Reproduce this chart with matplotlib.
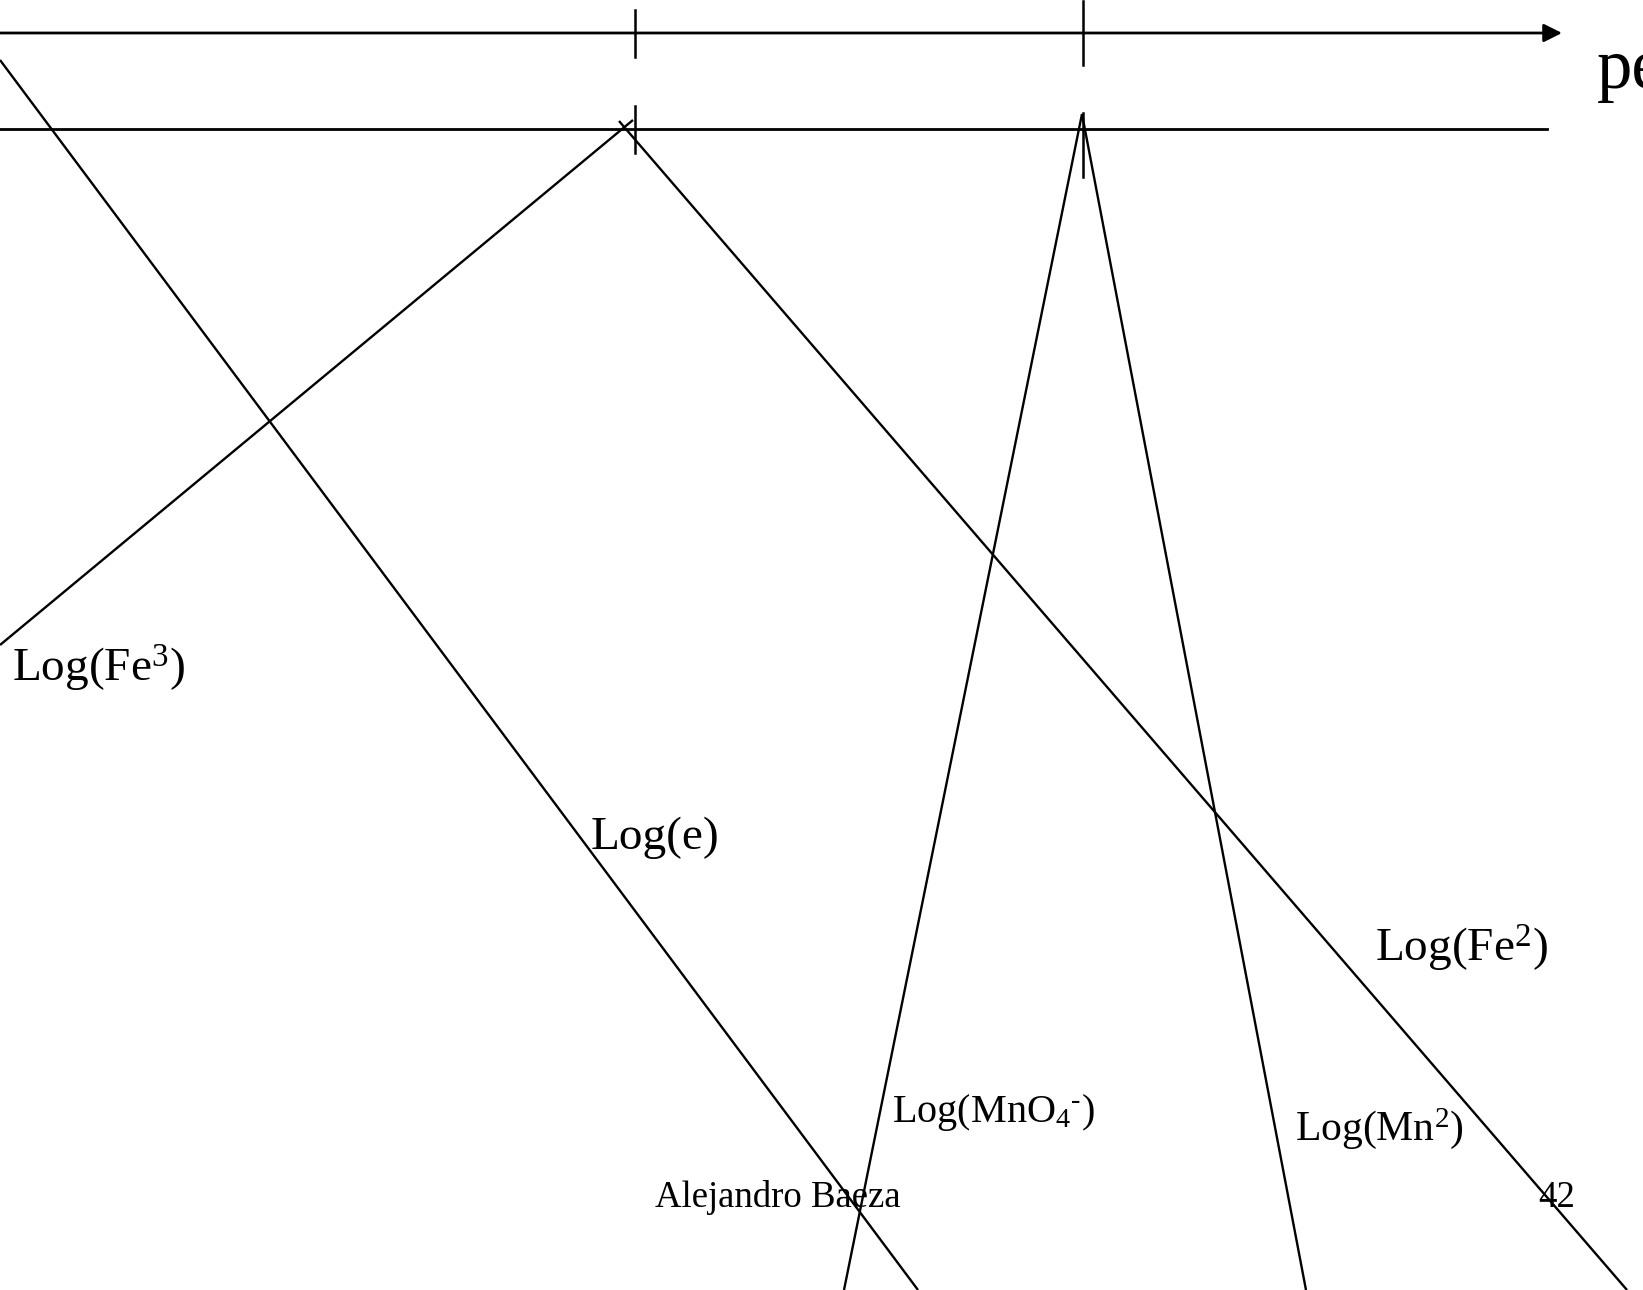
import matplotlib.pyplot as plt

plt.rcParams['font.family'] = ['Liberation Serif', 'DejaVu Serif']
plt.rcParams['mathtext.fontset'] = 'custom'
plt.rcParams['mathtext.rm'] = 'Liberation Serif'
plt.rcParams['mathtext.it'] = 'Liberation Serif:italic'

# positions (pixels of the 1643x1290 original, y downwards)
axis_y = [33, 129]                 # pe arrow axis, second reference line
axis_end = [1562, 1547]
tick_x = [635, 1083]
tick_top = [(10, 57), (1, 65)]
tick_low = [(106, 153), (113, 177)]

lines = {
    'Log(e)':    ([0, 918], [60, 1290]),
    'Log(Fe3)':  ([0, 633], [645, 120]),
    'Log(Fe2)':  ([619, 1627], [121, 1290]),
    'Log(MnO4)': ([1082, 844], [114, 1290]),
    'Log(Mn2)':  ([1082, 1306], [114, 1290]),
}

labels = [
    (r'Log(Fe$^{\mathrm{3}}$)', 12, 682, 34),
    ('Log(e)', 591, 849, 34),
    (r'Log(Fe$^{\mathrm{2}}$)', 1375, 962, 34),
    ('Log(MnO$_{\\mathrm{4}}$$^{\\mathrm{\u2010}}$)', 892, 1122, 29),
    (r'Log(Mn$^{\mathrm{2}}$)', 1295, 1140, 30),
    ('Alejandro Baeza', 655, 1207, 26.5),
    ('42', 1538, 1207, 26.5),
    ('pe', 1597, 88, 51),
]

fig = plt.figure(figsize=(16.43, 12.90), dpi=100)
ax = fig.add_axes([0, 0, 1, 1])
ax.set_xlim(0, 1643)
ax.set_ylim(1290, 0)
ax.axis('off')

# pe axis with arrow head
ax.annotate('', xy=(axis_end[0], axis_y[0]), xytext=(0, axis_y[0]),
            arrowprops=dict(arrowstyle='-|>,head_length=1.1,head_width=0.55',
                            lw=2.0, color='black', shrinkA=0, shrinkB=0,
                            mutation_scale=10))
ax.plot([0, axis_end[1]], [axis_y[1], axis_y[1]], color='black', lw=2.0)

for x, (a, b), (c, d) in zip(tick_x, tick_top, tick_low):
    ax.plot([x, x], [a, b], color='black', lw=1.8)
    ax.plot([x, x], [c, d], color='black', lw=1.8)

for name, (xs, ys) in lines.items():
    ax.plot(xs, ys, color='black', lw=1.7, solid_capstyle='butt')

for txt, x, y, size in labels:
    ax.text(x, y, txt, fontsize=size, ha='left', va='baseline', color='black')

fig.savefig('out.png', dpi=100, facecolor='white')
